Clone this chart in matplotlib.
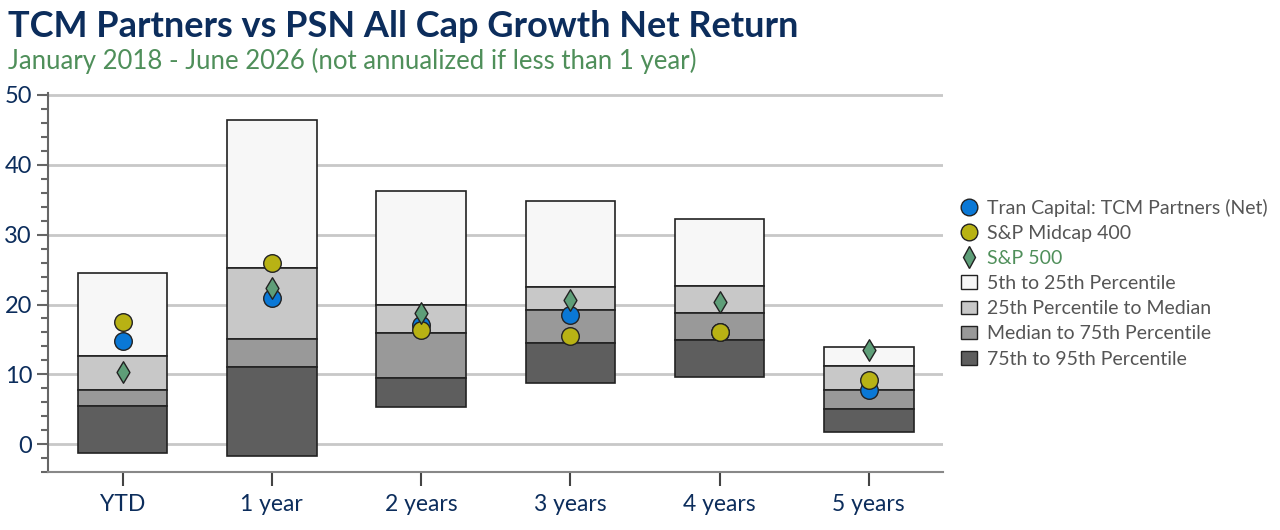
import matplotlib.pyplot as plt
import numpy as np
from matplotlib.patches import Patch
from matplotlib.lines import Line2D

periods = ['YTD', '1 year', '2 years', '3 years', '4 years', '5 years']
# percentile edges: 5th, 25th, median, 75th, 95th
p05 = [24.5, 46.4, 36.3, 34.8, 32.2, 13.9]
p25 = [12.6, 25.2, 19.9, 22.5, 22.6, 11.2]
p50 = [7.7, 15.0, 15.9, 19.2, 18.8, 7.7]
p75 = [5.5, 11.1, 9.5, 14.5, 14.9, 5.0]
p95 = [-1.3, -1.7, 5.4, 8.8, 9.6, 1.7]
tcm = [14.8, 21.0, 17.1, 18.5, 16.1, 7.7]
midcap = [17.5, 25.9, 16.4, 15.5, 16.1, 9.2]
sp500 = [10.3, 22.4, 18.8, 20.7, 20.4, 13.5]

navy = '#0c2d5c'
green = '#4f8f5a'
band_colors = ['#f7f7f7', '#c8c8c8', '#999999', '#5e5e5e']
band_labels = ['5th to 25th Percentile', '25th Percentile to Median',
               'Median to 75th Percentile', '75th to 95th Percentile']

plt.rcParams['font.family'] = ['Lato', 'DejaVu Sans']
fig = plt.figure(figsize=(12.8, 5.3), dpi=100)
ax = fig.add_axes([0.0375, 0.109, 0.6995, 0.716])

x = np.arange(len(periods))
w = 0.6
tops = [p05, p25, p50, p75]
bots = [p25, p50, p75, p95]
for t, b, c in zip(tops, bots, band_colors):
    ax.bar(x, np.array(t) - np.array(b), bottom=b, width=w, color=c,
           edgecolor='#222222', linewidth=1.2, zorder=2)

ax.scatter(x, tcm, s=160, color='#0a78d6', edgecolor='#222222', lw=1, zorder=4)
ax.scatter(x, midcap, s=160, color='#b8b214', edgecolor='#222222', lw=1, zorder=5)
ax.scatter(x, sp500, s=120, marker='d', color='#5e9e78', edgecolor='#222222', lw=1, zorder=6)

ax.set_xlim(-0.5, 5.5)
ax.set_ylim(-4, 50.3)
ax.set_yticks([0, 10, 20, 30, 40, 50])
ax.set_yticks(np.arange(-4, 51, 2), minor=True)
ax.set_xticks(x)
ax.set_xticklabels(periods)
ax.grid(axis='y', color='#c8c8c8', lw=2, zorder=0)
ax.set_axisbelow(True)
for s in ['top', 'right']:
    ax.spines[s].set_visible(False)
ax.spines['left'].set_color('#666666')
ax.spines['bottom'].set_color('#888888')
ax.spines['left'].set_linewidth(1.5)
ax.spines['bottom'].set_linewidth(1.5)
ax.tick_params(axis='y', which='major', length=8, width=1.5, color='#666666',
               labelsize=17, labelcolor=navy)
ax.tick_params(axis='y', which='minor', length=5, width=1.5, color='#666666')
ax.tick_params(axis='x', length=10, width=1.5, color='#444444', labelsize=16.5,
               labelcolor=navy, pad=6)

fig.text(0.006, 0.93, 'TCM Partners vs PSN All Cap Growth Net Return',
         fontsize=26, fontweight='bold', color=navy)
fig.text(0.006, 0.87, 'January 2018 - June 2026 (not annualized if less than 1 year)',
         fontsize=18.5, color=green)

handles = [
    Line2D([], [], marker='o', ls='', ms=12, color='#0a78d6', mec='#222222'),
    Line2D([], [], marker='o', ls='', ms=12, color='#b8b214', mec='#222222'),
    Line2D([], [], marker='d', ls='', ms=11, color='#5e9e78', mec='#222222'),
] + [Patch(facecolor=c, edgecolor='#222222') for c in band_colors]
labels = ['Tran Capital: TCM Partners (Net)', 'S&P Midcap 400', 'S&P 500'] + band_labels
leg = fig.legend(handles, labels, loc='center left', bbox_to_anchor=(0.745, 0.466),
                 frameon=False, fontsize=14, handlelength=0.8, handletextpad=0.5,
                 labelspacing=0.42, borderaxespad=0)
for i, t in enumerate(leg.get_texts()):
    t.set_color(green if i == 2 else '#555555')

fig.savefig('out.png', dpi=100)
